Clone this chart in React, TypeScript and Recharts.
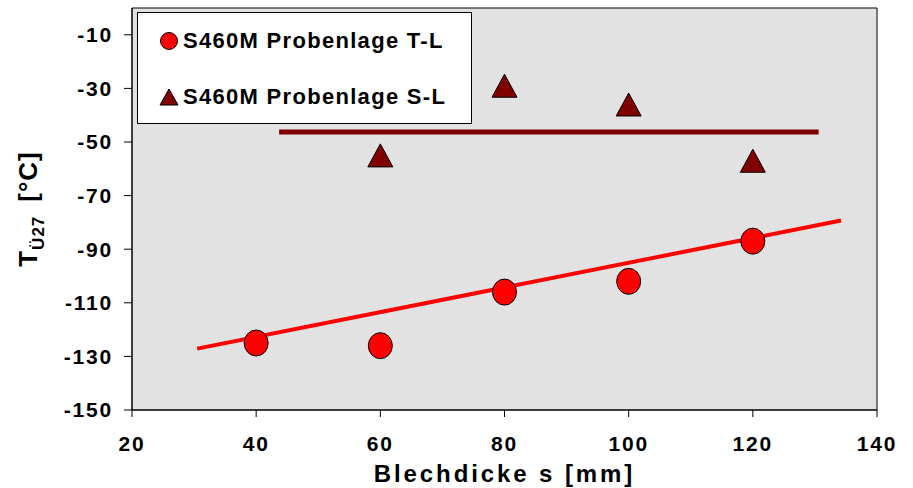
import React from "react";
import {
  ComposedChart,
  Line,
  Scatter,
  XAxis,
  YAxis,
  ReferenceArea,
  Legend,
  Label
} from "recharts";

const xTicks = [20, 40, 60, 80, 100, 120, 140];
const yTicks = [-150, -130, -110, -90, -70, -50, -30, -10];

// Probenlage T-L
const thicknessTL = [40, 60, 80, 100, 120];
const tempTL = [-125, -126, -106, -102, -87];

// Probenlage S-L
const thicknessSL = [60, 80, 100, 120];
const tempSL = [-55, -29, -36, -57];

// Ausgleichsgeraden
const trendTLx = [30.5, 134.2];
const trendTLy = [-127.1, -79.3];
const trendSLx = [43.7, 130.6];
const trendSLy = [-46.3, -46.3];

const seriesTL = "S460M Probenlage T-L";
const seriesSL = "S460M Probenlage S-L";

const RED = "#ff0000";
const DARK_RED = "#800000";
const FONT = "'Liberation Sans', Arial, sans-serif";

const pts = (xs: number[], ys: number[]) => xs.map((x, i) => ({ x, y: ys[i] }));

function Ellipse(props: any) {
  const { cx, cy } = props;
  return <ellipse cx={cx} cy={cy} rx={12} ry={13} fill={RED} stroke="#000" strokeWidth={1} />;
}

function Triangle(props: any) {
  const { cx, cy } = props;
  const w = 12.5;
  const h = 11.5;
  return (
    <polygon
      points={`${cx - w},${cy + h} ${cx + w},${cy + h} ${cx},${cy - h}`}
      fill={DARK_RED}
      stroke="#000"
      strokeWidth={1}
    />
  );
}

function YLabel(props: any) {
  const { viewBox } = props;
  const cx = viewBox.x + 37;
  const cy = viewBox.y + viewBox.height / 2;
  return (
    <text
      x={cx}
      y={cy}
      transform={`rotate(-90, ${cx}, ${cy})`}
      textAnchor="middle"
      fontFamily={FONT}
      fontWeight="bold"
      fontSize={26}
      fill="#000"
      letterSpacing={1}
    >
      T
      <tspan dy={7} fontSize={17}>Ü27</tspan>
      <tspan dy={-7} dx={14}>[°C]</tspan>
    </text>
  );
}

function LegendBox() {
  const row = (marker: React.ReactNode, text: string) => (
    <div style={{ display: "flex", alignItems: "center", height: 56 }}>
      <svg width={28} height={30} style={{ marginLeft: 17 }}>
        {marker}
      </svg>
      <span style={{ fontFamily: FONT, fontWeight: "bold", fontSize: 22, letterSpacing: 1.3, color: "#000" }}>
        {text}
      </span>
    </div>
  );
  return (
    <div
      style={{
        width: 335,
        height: 112,
        background: "#fff",
        border: "1px solid #000",
        boxSizing: "border-box"
      }}
    >
      {row(<circle cx={14} cy={15} r={8.5} fill={RED} stroke="#000" strokeWidth={1} />, seriesTL)}
      {row(
        <polygon points="5,23 23,23 14,7" fill={DARK_RED} stroke="#000" strokeWidth={1} />,
        seriesSL
      )}
    </div>
  );
}

const tickStyle = {
  fontSize: 21,
  fontWeight: "bold",
  fill: "#000",
  fontFamily: FONT,
  letterSpacing: 1.8
};

export default function App() {
  return (
    <div style={{ position: "absolute", left: 0, top: 0, background: "#fff" }}>
      <ComposedChart width={913} height={488} margin={{ top: 8, right: 36, bottom: 0, left: 0 }}>
        <XAxis
          type="number"
          dataKey="x"
          domain={[20, 140]}
          ticks={xTicks}
          allowDataOverflow
          height={78}
          tickSize={7}
          tickMargin={19}
          tick={tickStyle}
          axisLine={{ stroke: "#000" }}
          tickLine={{ stroke: "#000" }}
        >
          <Label
            value="Blechdicke s [mm]"
            position="insideBottom"
            offset={6}
            style={{ fontSize: 24, fontWeight: "bold", fill: "#000", fontFamily: FONT, letterSpacing: 2.9 }}
          />
        </XAxis>
        <YAxis
          type="number"
          dataKey="y"
          domain={[-150, 0]}
          ticks={yTicks}
          allowDataOverflow
          width={132}
          tickSize={8}
          tickMargin={11}
          tick={tickStyle}
          axisLine={{ stroke: "#000" }}
          tickLine={{ stroke: "#000" }}
        >
          <Label content={YLabel} />
        </YAxis>
        <ReferenceArea
          x1={20}
          x2={140}
          y1={-150}
          y2={0}
          fill="#e2e2e2"
          fillOpacity={1}
          stroke="#000"
          strokeWidth={1}
        />
        <Legend
          layout="vertical"
          align="center"
          verticalAlign="middle"
          content={<LegendBox />}
          wrapperStyle={{ left: 137, top: 12, width: 335, height: 112 }}
        />
        <Line
          data={pts(trendTLx, trendTLy)}
          dataKey="y"
          stroke={RED}
          strokeWidth={4}
          dot={false}
          legendType="none"
          isAnimationActive={false}
        />
        <Line
          data={pts(trendSLx, trendSLy)}
          dataKey="y"
          stroke={DARK_RED}
          strokeWidth={5}
          dot={false}
          legendType="none"
          isAnimationActive={false}
        />
        <Scatter
          name={seriesTL}
          data={pts(thicknessTL, tempTL)}
          shape={Ellipse}
          isAnimationActive={false}
        />
        <Scatter
          name={seriesSL}
          data={pts(thicknessSL, tempSL)}
          shape={Triangle}
          isAnimationActive={false}
        />
      </ComposedChart>
    </div>
  );
}
